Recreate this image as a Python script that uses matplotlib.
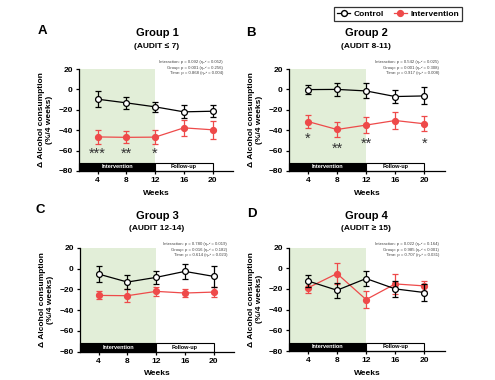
import matplotlib
matplotlib.use("Agg")
import matplotlib.pyplot as plt
from matplotlib.lines import Line2D
from matplotlib.patches import Rectangle
import numpy as np

plt.rcParams['font.family'] = ['Liberation Sans', 'DejaVu Sans']

weeks = [4, 8, 12, 16, 20]

# control / intervention means and error (SEM) per group
ctrl_1 = [-9.6, -13.2, -17.1, -22.0, -21.4]
ctrl_1_err = [8.0, 6.0, 5.0, 6.5, 6.0]
int_1 = [-46.6, -47.0, -46.8, -37.7, -39.6]
int_1_err = [7.0, 6.0, 7.0, 7.5, 9.0]

ctrl_2 = [-0.2, 0.0, -1.5, -7.0, -6.4]
ctrl_2_err = [4.5, 6.0, 7.3, 6.8, 8.3]
int_2 = [-31.5, -39.3, -35.0, -30.5, -33.7]
int_2_err = [6.7, 7.8, 8.1, 8.1, 7.5]

ctrl_3 = [-5.2, -12.9, -8.4, -2.6, -7.4]
ctrl_3_err = [7.7, 6.6, 6.0, 7.0, 10.0]
int_3 = [-25.8, -26.1, -21.9, -23.5, -22.6]
int_3_err = [3.9, 6.3, 4.7, 3.9, 4.7]

ctrl_4 = [-12.3, -21.3, -10.0, -20.0, -23.5]
ctrl_4_err = [6.1, 7.1, 7.6, 8.0, 8.0]
int_4 = [-19.0, -5.2, -30.3, -15.2, -17.1]
int_4_err = [5.3, 10.0, 8.5, 9.5, 5.0]

titles = ["Group 1", "Group 2", "Group 3", "Group 4"]
subtitles = ["(AUDIT \u2264 7)", "(AUDIT 8-11)", "(AUDIT 12-14)", "(AUDIT \u2265 15)"]
letters = ["A", "B", "C", "D"]

eta = "\u03b7\u209a\u00b2"
stats = [
    ["Interaction: p = 0.092 (" + eta + " = 0.052)",
     "Group: p = 0.001 (" + eta + " = 0.256)",
     "Time: p = 0.868 (" + eta + " = 0.004)"],
    ["Interaction: p = 0.542 (" + eta + " = 0.025)",
     "Group: p = 0.001 (" + eta + " = 0.308)",
     "Time: p = 0.917 (" + eta + " = 0.008)"],
    ["Interaction: p = 0.780 (" + eta + " = 0.019)",
     "Group: p = 0.016 (" + eta + " = 0.182)",
     "Time: p = 0.614 (" + eta + " = 0.023)"],
    ["Interaction: p = 0.022 (" + eta + " = 0.164)",
     "Group: p = 0.985 (" + eta + " < 0.001)",
     "Time: p = 0.707 (" + eta + " = 0.031)"],
]

# significance stars: (week, y, label)
stars = [
    [(4, -63, "***"), (8, -63, "**"), (12, -63, "*")],
    [(4, -48, "*"), (8, -58, "**"), (12, -53, "**"), (20, -53, "*")],
    [],
    [],
]

ctrls = [(ctrl_1, ctrl_1_err), (ctrl_2, ctrl_2_err), (ctrl_3, ctrl_3_err), (ctrl_4, ctrl_4_err)]
ints = [(int_1, int_1_err), (int_2, int_2_err), (int_3, int_3_err), (int_4, int_4_err)]

red = '#EE4A4A'
green = '#E2EED8'

fig = plt.figure(figsize=(4.95, 3.8), dpi=100)
W, H = 495.0, 380.0

# axes boxes in pixels: left, top, right, bottom
boxes = [(79, 69, 233, 171), (289, 69, 445, 171),
         (80, 248, 234, 351.5), (289, 247.5, 445, 351)]
title_pos = [(157, 33, 46), (366, 33, 47), (157, 216, 228), (366, 216, 228)]
letter_pos = [(42, 31), (251, 33), (40, 210), (252, 214)]
stat_pos = [(223, 62), (439, 62), (227, 244), (439, 244)]

x0, x1 = 1.4, 22.85

for i in range(4):
    l, t, r, b = boxes[i]
    ax = fig.add_axes([l / W, 1 - b / H, (r - l) / W, (b - t) / H])
    ax.set_xlim(x0, x1)
    ax.set_ylim(-80, 20)

    ax.axvspan(x0, 12, ymin=0.08, ymax=1, color=green, lw=0, zorder=0)
    ax.add_patch(Rectangle((x0, -80), 12 - x0, 8, facecolor='black',
                           edgecolor='black', lw=0.8, zorder=2, clip_on=False))
    ax.add_patch(Rectangle((12, -80), 8, 8, facecolor='white',
                           edgecolor='black', lw=0.8, zorder=2, clip_on=False))
    ax.text((x0 + 12) / 2, -76, "Intervention", color='white', fontsize=4,
            fontweight='bold', ha='center', va='center', zorder=3)
    ax.text(16, -76, "Follow-up", color='black', fontsize=4,
            fontweight='bold', ha='center', va='center', zorder=3)

    m, e = ints[i]
    ax.errorbar(weeks, m, yerr=e, color=red, lw=0.9, elinewidth=0.9,
                capsize=2, capthick=0.9, marker='o', markersize=4.2,
                markerfacecolor=red, markeredgecolor=red, zorder=4, clip_on=False)
    m, e = ctrls[i]
    ax.errorbar(weeks, m, yerr=e, color='black', lw=0.9, elinewidth=0.9,
                capsize=2, capthick=0.9, marker='o', markersize=4.2,
                markerfacecolor='white', markeredgecolor='black',
                markeredgewidth=0.9, zorder=5, clip_on=False)

    for wk, yy, s in stars[i]:
        ax.text(wk, yy, s, fontsize=10.5, color='#333333', ha='center', va='center')

    ax.spines['top'].set_visible(False)
    ax.spines['right'].set_visible(False)
    ax.spines['left'].set_linewidth(0.9)
    ax.spines['bottom'].set_linewidth(0.9)
    ax.set_xticks(weeks)
    ax.set_yticks([-80, -60, -40, -20, 0, 20])
    ax.tick_params(labelsize=6, width=0.9, length=2.5, pad=2)
    for lab in ax.get_xticklabels() + ax.get_yticklabels():
        lab.set_fontweight('bold')
    ax.set_xlabel("Weeks", fontsize=6, fontweight='bold', labelpad=4)
    ax.set_ylabel("\u0394 Alcohol consumption\n(%/4 weeks)", fontsize=6,
                  fontweight='bold', labelpad=4, linespacing=1.1)

    tx, ty, sy = title_pos[i]
    fig.text(tx / W, 1 - ty / H, titles[i], fontsize=8, fontweight='bold',
             ha='center', va='center')
    fig.text(tx / W, 1 - sy / H, subtitles[i], fontsize=6, fontweight='bold',
             ha='center', va='center')
    lx, ly = letter_pos[i]
    fig.text(lx / W, 1 - ly / H, letters[i], fontsize=9.5, fontweight='bold',
             ha='center', va='center')
    sx, sy0 = stat_pos[i]
    for k, line in enumerate(stats[i]):
        fig.text(sx / W, 1 - (sy0 + 5.6 * k) / H, line, fontsize=3.1,
                 color='#444444', ha='right', va='center')

handles = [
    Line2D([0], [0], color='black', lw=0.9, marker='o', markersize=4.2,
           markerfacecolor='white', markeredgecolor='black'),
    Line2D([0], [0], color=red, lw=0.9, marker='o', markersize=4.2,
           markerfacecolor=red, markeredgecolor=red),
]
leg = fig.legend(handles, ["Control", "Intervention"], loc='center',
                 bbox_to_anchor=(398 / W, 1 - 14 / H), ncol=2, frameon=True,
                 fancybox=False, edgecolor='black', handlelength=1.6,
                 handletextpad=0.4, columnspacing=1.2, borderpad=0.35,
                 prop={'size': 6, 'weight': 'bold'})
leg.get_frame().set_linewidth(0.9)

fig.savefig("out.png", dpi=100)
